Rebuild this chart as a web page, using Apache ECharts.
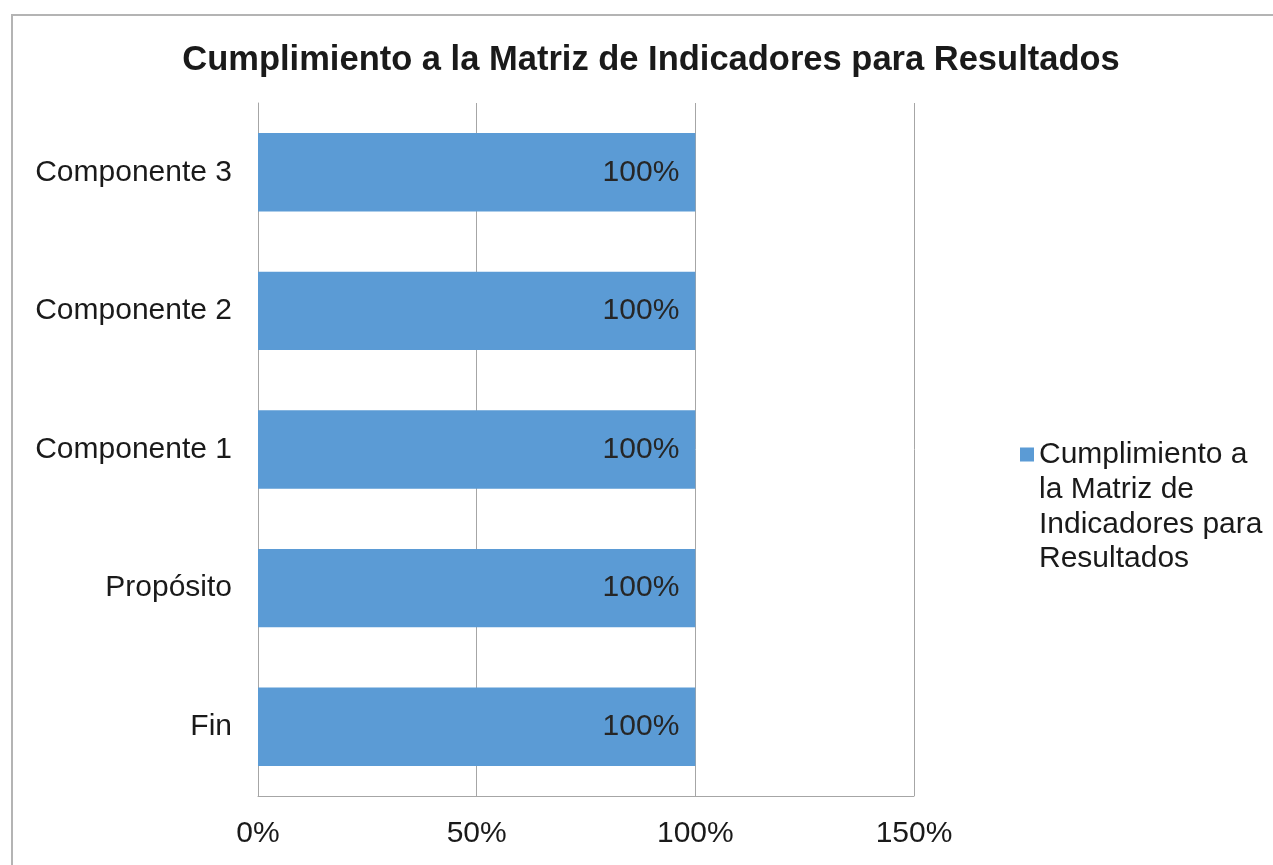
<!DOCTYPE html>
<html>
<head>
<meta charset="utf-8">
<script src="https://cdn.jsdelivr.net/npm/echarts@6/dist/echarts.min.js"></script>
<style>
html,body{margin:0;padding:0;background:#fff;}
#frame{position:absolute;left:11px;top:14px;width:1400px;height:1000px;border:2px solid #b4b4b4;box-sizing:border-box;}
#c{position:absolute;left:0;top:0;width:1273px;height:865px;}
</style>
</head>
<body>
<div id="frame"></div>
<div id="c"></div>
<script>
const titleText = 'Cumplimiento a la Matriz de Indicadores para Resultados';
const categories = ['Fin', 'Propósito', 'Componente 1', 'Componente 2', 'Componente 3'];
const seriesName = 'Cumplimiento a la Matriz de Indicadores para Resultados';
const legendLabel = 'Cumplimiento a\nla Matriz de\nIndicadores para\nResultados';
const values = [100, 100, 100, 100, 100];
const xTicks = [0, 50, 100, 150];

const chart = echarts.init(document.getElementById('c'), null, {renderer: 'canvas'});
const font = '"Liberation Sans", Arial, sans-serif';
chart.setOption({
  animation: false,
  title: {
    text: titleText,
    left: 646, top: 38, textAlign: 'center',
    textStyle: {fontFamily: font, fontSize: 34.5, fontWeight: 'bold', color: '#1a1a1a'}
  },
  legend: {
    orient: 'vertical',
    left: 1015, top: 432,
    icon: 'path://M0,0M0,10.5L14,10.5L14,24.5L0,24.5ZM0,140',
    itemWidth: 14, itemHeight: 140,
    formatter: function(){ return legendLabel; },
    textStyle: {fontFamily: font, fontSize: 30, color: '#1a1a1a', lineHeight: 34.7}
  },
  grid: {left: 258, right: 359, top: 103, bottom: 69, containLabel: false},
  xAxis: {
    type: 'value', min: 0, max: 150, interval: 50,
    axisLine: {show: true, lineStyle: {color: '#a6a6a6', width: 1}},
    axisTick: {show: false},
    splitLine: {show: true, lineStyle: {color: '#a6a6a6', width: 1}},
    axisLabel: {
      margin: 23, fontFamily: font, fontSize: 30, color: '#1a1a1a',
      formatter: function(v){ return xTicks.indexOf(v) >= 0 ? v + '%' : ''; }
    }
  },
  yAxis: {
    type: 'category', data: categories,
    axisLine: {show: true, lineStyle: {color: '#a6a6a6', width: 1}},
    axisTick: {show: false},
    axisLabel: {margin: 26, fontFamily: font, fontSize: 30, color: '#1a1a1a'}
  },
  series: [{
    name: seriesName,
    type: 'bar',
    data: values,
    barCategoryGap: '43.4%',
    itemStyle: {color: '#5b9bd5'},
    label: {
      show: true, position: 'insideRight', distance: 16,
      formatter: '{c}%', fontFamily: font, fontSize: 30, color: '#262626'
    }
  }]
});
</script>
</body>
</html>
